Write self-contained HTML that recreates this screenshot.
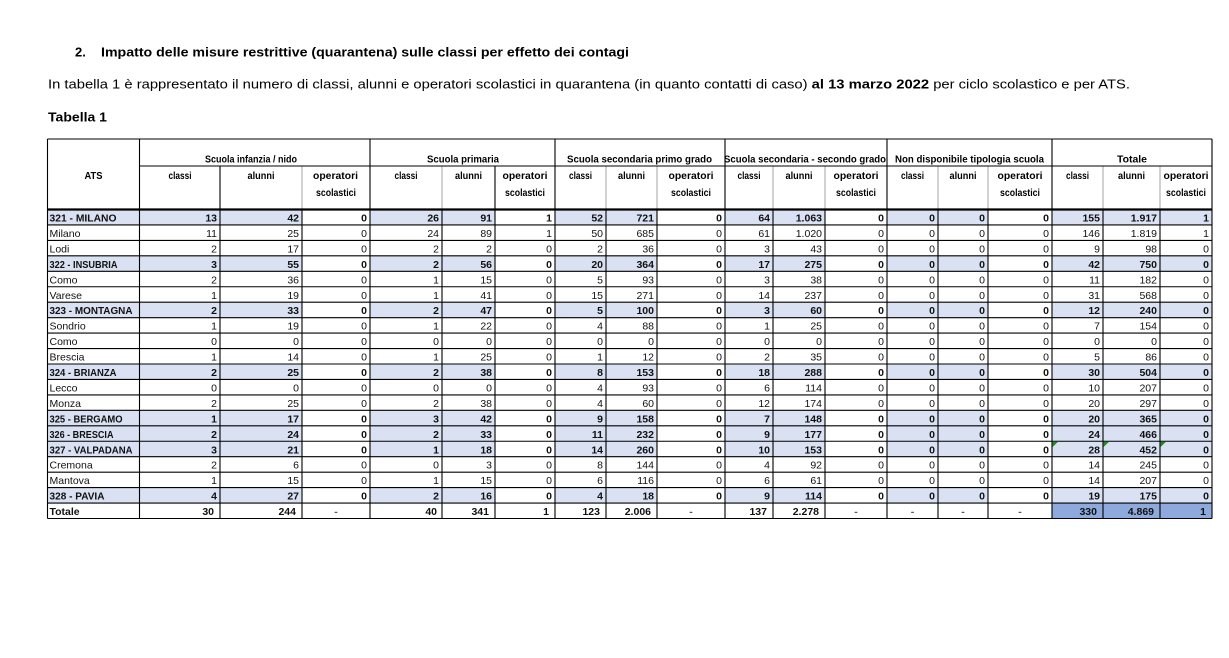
<!DOCTYPE html>
<html><head><meta charset="utf-8"><style>
html,body{margin:0;padding:0;background:#fff;width:1229px;height:658px;overflow:hidden}
svg{display:block}
.h{font-weight:bold;font-size:10.5px;fill:#000}
.n{font-size:10.5px;fill:#111}
.b{font-size:10.5px;font-weight:bold;fill:#111}
.r tspan{text-anchor:end}
.c tspan{text-anchor:middle}
</style></head><body>
<svg width="1229" height="658" viewBox="0 0 1229 658" font-family="'Liberation Sans', sans-serif">
<defs>
<g id="bl" fill="#D9E1F2">
<rect x="47.5" y="0" width="254.5" height="15.45"/>
<rect x="370" y="0" width="125" height="15.45"/>
<rect x="555" y="0" width="102" height="15.45"/>
<rect x="725" y="0" width="100" height="15.45"/>
<rect x="887" y="0" width="101" height="15.45"/>
<rect x="1052" y="0" width="160" height="15.45"/>
</g>
</defs>
<!-- top text -->
<text x="75" y="56.5" font-size="13" font-weight="bold" fill="#000">2.</text>
<text x="101" y="56.5" font-size="13" font-weight="bold" fill="#000" textLength="528" lengthAdjust="spacingAndGlyphs">Impatto delle misure restrittive (quarantena) sulle classi per effetto dei contagi</text>
<text x="48" y="88.5" font-size="13" fill="#000" textLength="1082" lengthAdjust="spacingAndGlyphs">In tabella 1 è rappresentato il numero di classi, alunni e operatori scolastici in quarantena (in quanto contatti di caso) <tspan font-weight="bold">al 13 marzo 2022</tspan> per ciclo scolastico e per ATS.</text>
<text x="48" y="121.5" font-size="13" font-weight="bold" fill="#000" textLength="59" lengthAdjust="spacingAndGlyphs">Tabella 1</text>

<!-- fills -->
<use href="#bl" transform="translate(0,209.5)"/>
<use href="#bl" transform="translate(0,255.85)"/>
<use href="#bl" transform="translate(0,302.2)"/>
<use href="#bl" transform="translate(0,364)"/>
<use href="#bl" transform="translate(0,410.35)"/>
<use href="#bl" transform="translate(0,425.8)"/>
<use href="#bl" transform="translate(0,441.25)"/>
<use href="#bl" transform="translate(0,487.6)"/>
<rect x="1052" y="503.05" width="160" height="15.45" fill="#8EA9DB"/>

<!-- header gray sub lines -->
<path d="M302 166V209.5M442 166V209.5M606 166V209.5M657 166V209.5M773 166V209.5M825 166V209.5M938 166V209.5M988 166V209.5M1103 166V209.5M1160 166V209.5" stroke="#d2d2d2" stroke-width="2" fill="none"/>
<!-- black lines -->
<path d="M47.5 139H1212M139.5 166H1212M47.5 224.95H1212M47.5 240.4H1212M47.5 255.85H1212M47.5 271.3H1212M47.5 286.75H1212M47.5 302.2H1212M47.5 317.65H1212M47.5 333.1H1212M47.5 348.55H1212M47.5 364H1212M47.5 379.45H1212M47.5 394.9H1212M47.5 410.35H1212M47.5 425.8H1212M47.5 441.25H1212M47.5 456.7H1212M47.5 472.15H1212M47.5 487.6H1212M47.5 503.05H1212M47.5 518.5H1212
M47.5 139V518.5M139.5 139V518.5M370 139V518.5M555 139V518.5M725 139V518.5M887 139V518.5M1052 139V518.5M1212 139V518.5
M220 166V518.5M495 166V518.5
M302 209.5V518.5M442 209.5V518.5M606 209.5V518.5M657 209.5V518.5M773 209.5V518.5M825 209.5V518.5M938 209.5V518.5M988 209.5V518.5M1103 209.5V518.5M1160 209.5V518.5" stroke="#000" stroke-width="1.1" fill="none"/>
<path d="M47.5 209.5H1212" stroke="#000" stroke-width="2.2"/>

<!-- green markers -->
<polygon points="1052.6,441.8 1058,441.8 1052.6,447" fill="#1f8a1f"/>
<polygon points="1103.6,441.8 1109,441.8 1103.6,447" fill="#1f8a1f"/>
<polygon points="1160.6,441.8 1166,441.8 1160.6,447" fill="#1f8a1f"/>

<!-- header text -->
<text class="h" y="162.5" x="205" textLength="92" lengthAdjust="spacingAndGlyphs">Scuola infanzia / nido</text>
<text class="h" y="162.5" x="427" textLength="72" lengthAdjust="spacingAndGlyphs">Scuola primaria</text>
<text class="h" y="162.5" x="567" textLength="145" lengthAdjust="spacingAndGlyphs">Scuola secondaria primo grado</text>
<text class="h" y="162.5" x="724" textLength="162" lengthAdjust="spacingAndGlyphs">Scuola secondaria - secondo grado</text>
<text class="h" y="162.5" x="895" textLength="149" lengthAdjust="spacingAndGlyphs">Non disponibile tipologia scuola</text>
<text class="h" y="162.5" x="1117" textLength="30" lengthAdjust="spacingAndGlyphs">Totale</text>

<text class="h" y="179" x="84.5" textLength="18" lengthAdjust="spacingAndGlyphs">ATS</text>
<text class="h" y="179" x="168.5" textLength="23" lengthAdjust="spacingAndGlyphs">classi</text>
<text class="h" y="179" x="247.5" textLength="27" lengthAdjust="spacingAndGlyphs">alunni</text>
<text class="h" y="179" x="313" textLength="45" lengthAdjust="spacingAndGlyphs">operatori</text>
<text class="h" y="196" x="316" textLength="40" lengthAdjust="spacingAndGlyphs">scolastici</text>
<text class="h" y="179" x="394.5" textLength="23" lengthAdjust="spacingAndGlyphs">classi</text>
<text class="h" y="179" x="455" textLength="27" lengthAdjust="spacingAndGlyphs">alunni</text>
<text class="h" y="179" x="502.5" textLength="45" lengthAdjust="spacingAndGlyphs">operatori</text>
<text class="h" y="196" x="505" textLength="40" lengthAdjust="spacingAndGlyphs">scolastici</text>
<text class="h" y="179" x="569" textLength="23" lengthAdjust="spacingAndGlyphs">classi</text>
<text class="h" y="179" x="618" textLength="27" lengthAdjust="spacingAndGlyphs">alunni</text>
<text class="h" y="179" x="668.5" textLength="45" lengthAdjust="spacingAndGlyphs">operatori</text>
<text class="h" y="196" x="671" textLength="40" lengthAdjust="spacingAndGlyphs">scolastici</text>
<text class="h" y="179" x="737.5" textLength="23" lengthAdjust="spacingAndGlyphs">classi</text>
<text class="h" y="179" x="785.5" textLength="27" lengthAdjust="spacingAndGlyphs">alunni</text>
<text class="h" y="179" x="833.5" textLength="45" lengthAdjust="spacingAndGlyphs">operatori</text>
<text class="h" y="196" x="836" textLength="40" lengthAdjust="spacingAndGlyphs">scolastici</text>
<text class="h" y="179" x="901" textLength="23" lengthAdjust="spacingAndGlyphs">classi</text>
<text class="h" y="179" x="949.5" textLength="27" lengthAdjust="spacingAndGlyphs">alunni</text>
<text class="h" y="179" x="997.5" textLength="45" lengthAdjust="spacingAndGlyphs">operatori</text>
<text class="h" y="196" x="1000" textLength="40" lengthAdjust="spacingAndGlyphs">scolastici</text>
<text class="h" y="179" x="1066" textLength="23" lengthAdjust="spacingAndGlyphs">classi</text>
<text class="h" y="179" x="1118" textLength="27" lengthAdjust="spacingAndGlyphs">alunni</text>
<text class="h" y="179" x="1163.5" textLength="45" lengthAdjust="spacingAndGlyphs">operatori</text>
<text class="h" y="196" x="1166" textLength="40" lengthAdjust="spacingAndGlyphs">scolastici</text>

<!-- row labels -->
<text class="b" x="49.5" y="221.5" textLength="67" lengthAdjust="spacingAndGlyphs">321 - MILANO</text>
<text class="n" x="49.5" y="237">Milano</text>
<text class="n" x="49.5" y="252.4">Lodi</text>
<text class="b" x="49.5" y="267.85" textLength="68" lengthAdjust="spacingAndGlyphs">322 - INSUBRIA</text>
<text class="n" x="49.5" y="283.3">Como</text>
<text class="n" x="49.5" y="298.75">Varese</text>
<text class="b" x="49.5" y="314.2" textLength="83" lengthAdjust="spacingAndGlyphs">323 - MONTAGNA</text>
<text class="n" x="49.5" y="329.65">Sondrio</text>
<text class="n" x="49.5" y="345.1">Como</text>
<text class="n" x="49.5" y="360.55">Brescia</text>
<text class="b" x="49.5" y="376" textLength="67" lengthAdjust="spacingAndGlyphs">324 - BRIANZA</text>
<text class="n" x="49.5" y="391.45">Lecco</text>
<text class="n" x="49.5" y="406.9">Monza</text>
<text class="b" x="49.5" y="422.35" textLength="73" lengthAdjust="spacingAndGlyphs">325 - BERGAMO</text>
<text class="b" x="49.5" y="437.8" textLength="64" lengthAdjust="spacingAndGlyphs">326 - BRESCIA</text>
<text class="b" x="49.5" y="453.25" textLength="83" lengthAdjust="spacingAndGlyphs">327 - VALPADANA</text>
<text class="n" x="49.5" y="468.7">Cremona</text>
<text class="n" x="49.5" y="484.15">Mantova</text>
<text class="b" x="49.5" y="499.6" textLength="55" lengthAdjust="spacingAndGlyphs">328 - PAVIA</text>
<text class="b" x="49.5" y="515.05">Totale</text>

<!-- numbers -->
<text class="b r" y="221.5"><tspan x="217">13</tspan><tspan x="299">42</tspan><tspan x="367">0</tspan><tspan x="439">26</tspan><tspan x="492">91</tspan><tspan x="552">1</tspan><tspan x="603">52</tspan><tspan x="654">721</tspan><tspan x="722">0</tspan><tspan x="770">64</tspan><tspan x="822">1.063</tspan><tspan x="884">0</tspan><tspan x="935">0</tspan><tspan x="985">0</tspan><tspan x="1049">0</tspan><tspan x="1100">155</tspan><tspan x="1157">1.917</tspan><tspan x="1209">1</tspan></text>
<text class="n r" y="237"><tspan x="217">11</tspan><tspan x="299">25</tspan><tspan x="367">0</tspan><tspan x="439">24</tspan><tspan x="492">89</tspan><tspan x="552">1</tspan><tspan x="603">50</tspan><tspan x="654">685</tspan><tspan x="722">0</tspan><tspan x="770">61</tspan><tspan x="822">1.020</tspan><tspan x="884">0</tspan><tspan x="935">0</tspan><tspan x="985">0</tspan><tspan x="1049">0</tspan><tspan x="1100">146</tspan><tspan x="1157">1.819</tspan><tspan x="1209">1</tspan></text>
<text class="n r" y="252.4"><tspan x="217">2</tspan><tspan x="299">17</tspan><tspan x="367">0</tspan><tspan x="439">2</tspan><tspan x="492">2</tspan><tspan x="552">0</tspan><tspan x="603">2</tspan><tspan x="654">36</tspan><tspan x="722">0</tspan><tspan x="770">3</tspan><tspan x="822">43</tspan><tspan x="884">0</tspan><tspan x="935">0</tspan><tspan x="985">0</tspan><tspan x="1049">0</tspan><tspan x="1100">9</tspan><tspan x="1157">98</tspan><tspan x="1209">0</tspan></text>
<text class="b r" y="267.85"><tspan x="217">3</tspan><tspan x="299">55</tspan><tspan x="367">0</tspan><tspan x="439">2</tspan><tspan x="492">56</tspan><tspan x="552">0</tspan><tspan x="603">20</tspan><tspan x="654">364</tspan><tspan x="722">0</tspan><tspan x="770">17</tspan><tspan x="822">275</tspan><tspan x="884">0</tspan><tspan x="935">0</tspan><tspan x="985">0</tspan><tspan x="1049">0</tspan><tspan x="1100">42</tspan><tspan x="1157">750</tspan><tspan x="1209">0</tspan></text>
<text class="n r" y="283.3"><tspan x="217">2</tspan><tspan x="299">36</tspan><tspan x="367">0</tspan><tspan x="439">1</tspan><tspan x="492">15</tspan><tspan x="552">0</tspan><tspan x="603">5</tspan><tspan x="654">93</tspan><tspan x="722">0</tspan><tspan x="770">3</tspan><tspan x="822">38</tspan><tspan x="884">0</tspan><tspan x="935">0</tspan><tspan x="985">0</tspan><tspan x="1049">0</tspan><tspan x="1100">11</tspan><tspan x="1157">182</tspan><tspan x="1209">0</tspan></text>
<text class="n r" y="298.75"><tspan x="217">1</tspan><tspan x="299">19</tspan><tspan x="367">0</tspan><tspan x="439">1</tspan><tspan x="492">41</tspan><tspan x="552">0</tspan><tspan x="603">15</tspan><tspan x="654">271</tspan><tspan x="722">0</tspan><tspan x="770">14</tspan><tspan x="822">237</tspan><tspan x="884">0</tspan><tspan x="935">0</tspan><tspan x="985">0</tspan><tspan x="1049">0</tspan><tspan x="1100">31</tspan><tspan x="1157">568</tspan><tspan x="1209">0</tspan></text>
<text class="b r" y="314.2"><tspan x="217">2</tspan><tspan x="299">33</tspan><tspan x="367">0</tspan><tspan x="439">2</tspan><tspan x="492">47</tspan><tspan x="552">0</tspan><tspan x="603">5</tspan><tspan x="654">100</tspan><tspan x="722">0</tspan><tspan x="770">3</tspan><tspan x="822">60</tspan><tspan x="884">0</tspan><tspan x="935">0</tspan><tspan x="985">0</tspan><tspan x="1049">0</tspan><tspan x="1100">12</tspan><tspan x="1157">240</tspan><tspan x="1209">0</tspan></text>
<text class="n r" y="329.65"><tspan x="217">1</tspan><tspan x="299">19</tspan><tspan x="367">0</tspan><tspan x="439">1</tspan><tspan x="492">22</tspan><tspan x="552">0</tspan><tspan x="603">4</tspan><tspan x="654">88</tspan><tspan x="722">0</tspan><tspan x="770">1</tspan><tspan x="822">25</tspan><tspan x="884">0</tspan><tspan x="935">0</tspan><tspan x="985">0</tspan><tspan x="1049">0</tspan><tspan x="1100">7</tspan><tspan x="1157">154</tspan><tspan x="1209">0</tspan></text>
<text class="n r" y="345.1"><tspan x="217">0</tspan><tspan x="299">0</tspan><tspan x="367">0</tspan><tspan x="439">0</tspan><tspan x="492">0</tspan><tspan x="552">0</tspan><tspan x="603">0</tspan><tspan x="654">0</tspan><tspan x="722">0</tspan><tspan x="770">0</tspan><tspan x="822">0</tspan><tspan x="884">0</tspan><tspan x="935">0</tspan><tspan x="985">0</tspan><tspan x="1049">0</tspan><tspan x="1100">0</tspan><tspan x="1157">0</tspan><tspan x="1209">0</tspan></text>
<text class="n r" y="360.55"><tspan x="217">1</tspan><tspan x="299">14</tspan><tspan x="367">0</tspan><tspan x="439">1</tspan><tspan x="492">25</tspan><tspan x="552">0</tspan><tspan x="603">1</tspan><tspan x="654">12</tspan><tspan x="722">0</tspan><tspan x="770">2</tspan><tspan x="822">35</tspan><tspan x="884">0</tspan><tspan x="935">0</tspan><tspan x="985">0</tspan><tspan x="1049">0</tspan><tspan x="1100">5</tspan><tspan x="1157">86</tspan><tspan x="1209">0</tspan></text>
<text class="b r" y="376"><tspan x="217">2</tspan><tspan x="299">25</tspan><tspan x="367">0</tspan><tspan x="439">2</tspan><tspan x="492">38</tspan><tspan x="552">0</tspan><tspan x="603">8</tspan><tspan x="654">153</tspan><tspan x="722">0</tspan><tspan x="770">18</tspan><tspan x="822">288</tspan><tspan x="884">0</tspan><tspan x="935">0</tspan><tspan x="985">0</tspan><tspan x="1049">0</tspan><tspan x="1100">30</tspan><tspan x="1157">504</tspan><tspan x="1209">0</tspan></text>
<text class="n r" y="391.45"><tspan x="217">0</tspan><tspan x="299">0</tspan><tspan x="367">0</tspan><tspan x="439">0</tspan><tspan x="492">0</tspan><tspan x="552">0</tspan><tspan x="603">4</tspan><tspan x="654">93</tspan><tspan x="722">0</tspan><tspan x="770">6</tspan><tspan x="822">114</tspan><tspan x="884">0</tspan><tspan x="935">0</tspan><tspan x="985">0</tspan><tspan x="1049">0</tspan><tspan x="1100">10</tspan><tspan x="1157">207</tspan><tspan x="1209">0</tspan></text>
<text class="n r" y="406.9"><tspan x="217">2</tspan><tspan x="299">25</tspan><tspan x="367">0</tspan><tspan x="439">2</tspan><tspan x="492">38</tspan><tspan x="552">0</tspan><tspan x="603">4</tspan><tspan x="654">60</tspan><tspan x="722">0</tspan><tspan x="770">12</tspan><tspan x="822">174</tspan><tspan x="884">0</tspan><tspan x="935">0</tspan><tspan x="985">0</tspan><tspan x="1049">0</tspan><tspan x="1100">20</tspan><tspan x="1157">297</tspan><tspan x="1209">0</tspan></text>
<text class="b r" y="422.35"><tspan x="217">1</tspan><tspan x="299">17</tspan><tspan x="367">0</tspan><tspan x="439">3</tspan><tspan x="492">42</tspan><tspan x="552">0</tspan><tspan x="603">9</tspan><tspan x="654">158</tspan><tspan x="722">0</tspan><tspan x="770">7</tspan><tspan x="822">148</tspan><tspan x="884">0</tspan><tspan x="935">0</tspan><tspan x="985">0</tspan><tspan x="1049">0</tspan><tspan x="1100">20</tspan><tspan x="1157">365</tspan><tspan x="1209">0</tspan></text>
<text class="b r" y="437.8"><tspan x="217">2</tspan><tspan x="299">24</tspan><tspan x="367">0</tspan><tspan x="439">2</tspan><tspan x="492">33</tspan><tspan x="552">0</tspan><tspan x="603">11</tspan><tspan x="654">232</tspan><tspan x="722">0</tspan><tspan x="770">9</tspan><tspan x="822">177</tspan><tspan x="884">0</tspan><tspan x="935">0</tspan><tspan x="985">0</tspan><tspan x="1049">0</tspan><tspan x="1100">24</tspan><tspan x="1157">466</tspan><tspan x="1209">0</tspan></text>
<text class="b r" y="453.25"><tspan x="217">3</tspan><tspan x="299">21</tspan><tspan x="367">0</tspan><tspan x="439">1</tspan><tspan x="492">18</tspan><tspan x="552">0</tspan><tspan x="603">14</tspan><tspan x="654">260</tspan><tspan x="722">0</tspan><tspan x="770">10</tspan><tspan x="822">153</tspan><tspan x="884">0</tspan><tspan x="935">0</tspan><tspan x="985">0</tspan><tspan x="1049">0</tspan><tspan x="1100">28</tspan><tspan x="1157">452</tspan><tspan x="1209">0</tspan></text>
<text class="n r" y="468.7"><tspan x="217">2</tspan><tspan x="299">6</tspan><tspan x="367">0</tspan><tspan x="439">0</tspan><tspan x="492">3</tspan><tspan x="552">0</tspan><tspan x="603">8</tspan><tspan x="654">144</tspan><tspan x="722">0</tspan><tspan x="770">4</tspan><tspan x="822">92</tspan><tspan x="884">0</tspan><tspan x="935">0</tspan><tspan x="985">0</tspan><tspan x="1049">0</tspan><tspan x="1100">14</tspan><tspan x="1157">245</tspan><tspan x="1209">0</tspan></text>
<text class="n r" y="484.15"><tspan x="217">1</tspan><tspan x="299">15</tspan><tspan x="367">0</tspan><tspan x="439">1</tspan><tspan x="492">15</tspan><tspan x="552">0</tspan><tspan x="603">6</tspan><tspan x="654">116</tspan><tspan x="722">0</tspan><tspan x="770">6</tspan><tspan x="822">61</tspan><tspan x="884">0</tspan><tspan x="935">0</tspan><tspan x="985">0</tspan><tspan x="1049">0</tspan><tspan x="1100">14</tspan><tspan x="1157">207</tspan><tspan x="1209">0</tspan></text>
<text class="b r" y="499.6"><tspan x="217">4</tspan><tspan x="299">27</tspan><tspan x="367">0</tspan><tspan x="439">2</tspan><tspan x="492">16</tspan><tspan x="552">0</tspan><tspan x="603">4</tspan><tspan x="654">18</tspan><tspan x="722">0</tspan><tspan x="770">9</tspan><tspan x="822">114</tspan><tspan x="884">0</tspan><tspan x="935">0</tspan><tspan x="985">0</tspan><tspan x="1049">0</tspan><tspan x="1100">19</tspan><tspan x="1157">175</tspan><tspan x="1209">0</tspan></text>
<text class="b r" y="515.05"><tspan x="214">30</tspan><tspan x="296">244</tspan><tspan x="437">40</tspan><tspan x="489">341</tspan><tspan x="549">1</tspan><tspan x="600">123</tspan><tspan x="651">2.006</tspan><tspan x="767">137</tspan><tspan x="819">2.278</tspan><tspan x="1097">330</tspan><tspan x="1154">4.869</tspan><tspan x="1206">1</tspan></text>
<text class="b c" y="515.05" style="fill:#555"><tspan x="336">-</tspan><tspan x="691">-</tspan><tspan x="856">-</tspan><tspan x="912.5">-</tspan><tspan x="963">-</tspan><tspan x="1020">-</tspan></text>
</svg>
</body></html>
